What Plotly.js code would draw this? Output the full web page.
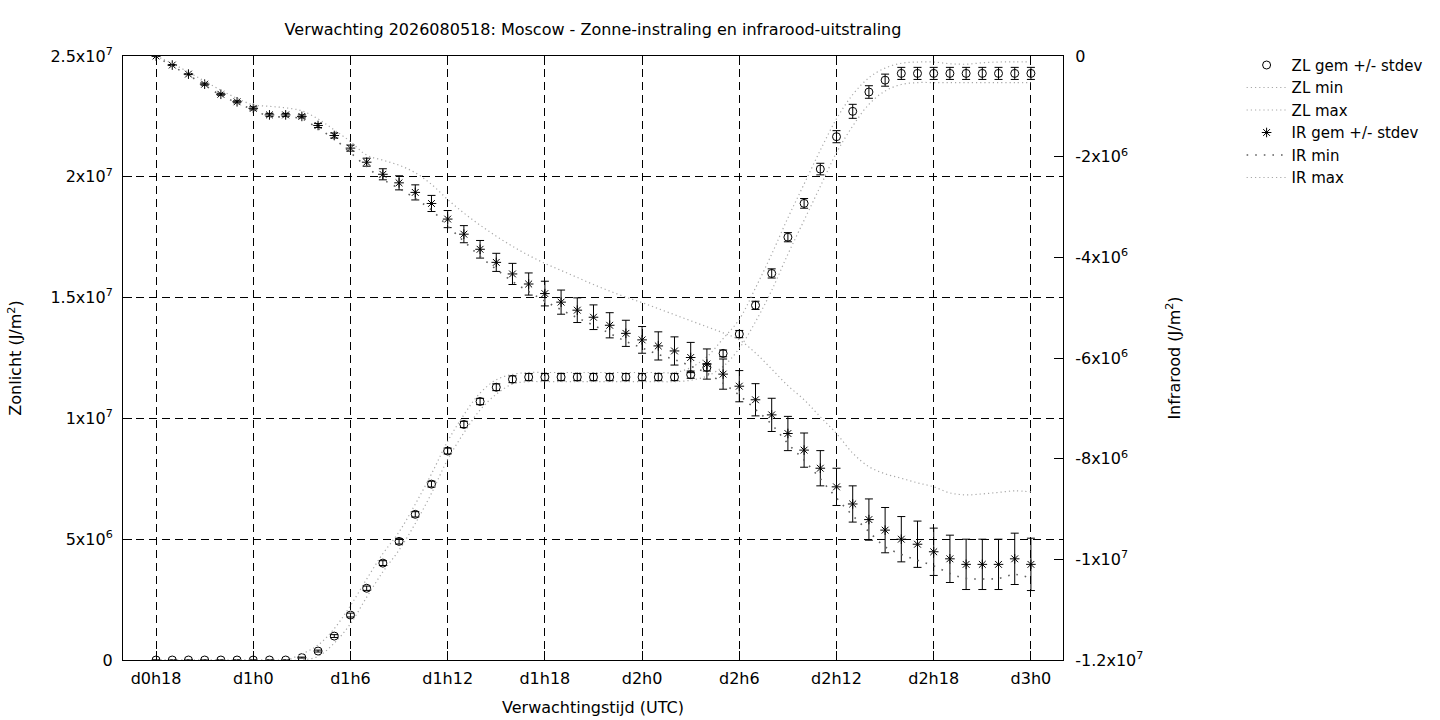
<!DOCTYPE html>
<html>
<head>
<meta charset="utf-8">
<script src="https://cdn.plot.ly/plotly-3.0.1.min.js"></script>
<style>html,body{margin:0;padding:0;background:#fff;}#chart{width:1440px;height:720px;}</style>
</head>
<body>
<div id="chart"></div>
<script>
// Forecast times (hourly)
const times = ['d0h18','d0h19','d0h20','d0h21','d0h22','d0h23',
 'd1h0','d1h1','d1h2','d1h3','d1h4','d1h5','d1h6','d1h7','d1h8','d1h9','d1h10','d1h11',
 'd1h12','d1h13','d1h14','d1h15','d1h16','d1h17','d1h18','d1h19','d1h20','d1h21','d1h22','d1h23',
 'd2h0','d2h1','d2h2','d2h3','d2h4','d2h5','d2h6','d2h7','d2h8','d2h9','d2h10','d2h11',
 'd2h12','d2h13','d2h14','d2h15','d2h16','d2h17','d2h18','d2h19','d2h20','d2h21','d2h22','d2h23',
 'd3h0'];
const xTickVals = ['d0h18','d1h0','d1h6','d1h12','d1h18','d2h0','d2h6','d2h12','d2h18','d3h0'];

// Values in millions of J/m2
const UNIT = 1e6;
const zlMean = [0,0,0,0,0,0,0,0,0,0.10,0.37,0.99,1.86,2.97,4.01,4.91,6.03,7.28,8.65,9.75,10.70,11.29,11.62,
 11.71,11.71,11.71,11.71,11.71,11.71,11.71,11.71,11.71,11.71,
 11.81,12.11,12.69,13.49,14.68,16.00,17.50,18.90,20.32,21.66,22.71,23.51,24.00,
 24.28,24.28,24.28,24.28,24.28,24.28,24.28,24.28,24.28];
const zlStd = [0,0,0,0,0,0,0,0,0,0.02,0.04,0.06,0.08,0.09,0.10,0.11,0.11,0.12,0.12,0.13,0.13,0.14,0.14,
 0.15,0.15,0.15,0.15,0.15,0.15,0.15,0.15,0.15,0.15,
 0.15,0.15,0.14,0.15,0.17,0.19,0.19,0.20,0.24,0.25,0.29,0.26,0.25,
 0.25,0.25,0.25,0.25,0.25,0.25,0.25,0.25,0.25];
const zlMin = [0,0,0,0,0,0,0,0,0,0,0.15,0.70,1.50,2.60,3.65,4.55,5.65,6.90,8.30,9.40,10.35,11.00,11.42,
 11.52,11.52,11.52,11.52,11.52,11.52,11.52,11.52,11.52,11.52,
 11.58,11.75,12.15,12.90,14.00,15.30,16.80,18.20,19.60,21.00,22.10,23.00,23.55,
 23.82,23.90,23.90,23.90,23.90,23.90,23.90,23.90,23.90];
const zlMax = [0,0,0,0,0,0,0,0,0,0.25,0.62,1.30,2.25,3.35,4.40,5.30,6.45,7.70,9.05,10.15,11.05,11.60,11.82,
 11.90,11.90,11.90,11.90,11.90,11.90,11.90,11.90,11.90,11.90,
 12.10,12.55,13.30,14.10,15.40,16.80,18.30,19.70,21.10,22.40,23.40,24.10,24.50,
 24.70,24.75,24.75,24.68,24.66,24.72,24.75,24.76,24.76];

const irMean = [0,-0.18,-0.36,-0.56,-0.76,-0.91,-1.04,-1.17,-1.17,-1.20,-1.38,-1.58,-1.83,-2.11,-2.35,-2.52,-2.71,-2.93,
 -3.24,-3.54,-3.84,-4.10,-4.33,-4.53,-4.72,-4.89,-5.05,-5.19,-5.35,-5.51,-5.64,-5.76,-5.86,-5.99,-6.12,-6.32,
 -6.56,-6.83,-7.13,-7.50,-7.83,-8.19,-8.56,-8.90,-9.21,-9.42,-9.60,-9.70,-9.85,-9.99,-10.10,-10.10,-10.10,-9.99,-10.10];
const irStd = [0,0.01,0.01,0.02,0.02,0.02,0.03,0.03,0.03,0.03,0.04,0.05,0.06,0.08,0.11,0.14,0.15,0.16,
 0.17,0.17,0.175,0.18,0.21,0.22,0.245,0.24,0.245,0.245,0.25,0.26,0.265,0.28,0.28,0.30,0.30,0.30,
 0.31,0.32,0.33,0.34,0.34,0.35,0.37,0.36,0.41,0.45,0.45,0.46,0.47,0.47,0.50,0.50,0.50,0.51,0.52];
const irMin = [0,-0.20,-0.38,-0.58,-0.78,-0.93,-1.07,-1.20,-1.21,-1.25,-1.44,-1.65,-1.92,-2.20,-2.45,-2.63,-2.83,-3.06,
 -3.38,-3.68,-3.98,-4.24,-4.48,-4.68,-4.87,-5.04,-5.20,-5.35,-5.51,-5.67,-5.80,-5.93,-6.03,-6.16,-6.30,-6.50,
 -6.74,-7.02,-7.32,-7.70,-8.03,-8.40,-8.78,-9.13,-9.45,-9.75,-9.90,-10.02,-10.13,-10.28,-10.38,-10.39,-10.38,-10.30,-10.38];
const irMax = [0,-0.15,-0.32,-0.50,-0.68,-0.84,-0.97,-1.00,-1.03,-1.09,-1.25,-1.47,-1.70,-1.97,-2.07,-2.17,-2.32,-2.55,
 -2.85,-3.12,-3.36,-3.58,-3.78,-3.96,-4.12,-4.26,-4.40,-4.54,-4.67,-4.79,-4.90,-5.02,-5.14,-5.26,-5.38,-5.50,
 -5.64,-5.90,-6.22,-6.55,-6.83,-7.17,-7.50,-7.89,-8.16,-8.30,-8.39,-8.48,-8.56,-8.68,-8.72,-8.70,-8.67,-8.64,-8.66];

const leftTickVals = [0, 5e6, 1e7, 1.5e7, 2e7, 2.5e7];
const leftTickText = ['0','5x10<sup>6</sup>','1x10<sup>7</sup>','1.5x10<sup>7</sup>','2x10<sup>7</sup>','2.5x10<sup>7</sup>'];
const rightTickVals = [0, -2e6, -4e6, -6e6, -8e6, -1e7, -1.2e7];
const rightTickText = ['0','-2x10<sup>6</sup>','-4x10<sup>6</sup>','-6x10<sup>6</sup>','-8x10<sup>6</sup>','-1x10<sup>7</sup>','-1.2x10<sup>7</sup>'];

const sc = a => a.map(v => v * UNIT);
const lightDots = {color:'#a8a8a8', width:1.2, dash:'1.2px,3px', shape:'spline'};
const darkDots = {color:'#606060', width:1.6, dash:'1.6px,7px', shape:'spline'};

const traces = [
  {name:'ZL gem +/- stdev', x:times, y:sc(zlMean), type:'scatter', mode:'markers', yaxis:'y',
   marker:{symbol:'circle-open', size:8, color:'#000', line:{width:1, color:'#000'}},
   error_y:{type:'data', array:sc(zlStd), visible:true, color:'#000', thickness:1, width:4}},
  {name:'ZL min', x:times, y:sc(zlMin), type:'scatter', mode:'lines', yaxis:'y', line:lightDots},
  {name:'ZL max', x:times, y:sc(zlMax), type:'scatter', mode:'lines', yaxis:'y', line:lightDots},
  {name:'IR gem +/- stdev', x:times, y:sc(irMean), type:'scatter', mode:'markers', yaxis:'y2',
   marker:{symbol:'asterisk-open', size:8, color:'#000', line:{width:1, color:'#000'}},
   error_y:{type:'data', array:sc(irStd), visible:true, color:'#000', thickness:1, width:4}},
  {name:'IR min', x:times, y:sc(irMin), type:'scatter', mode:'lines', yaxis:'y2', line:darkDots},
  {name:'IR max', x:times, y:sc(irMax), type:'scatter', mode:'lines', yaxis:'y2', line:lightDots}
];

const gridDash = '8px,5px';
const layout = {
  width:1440, height:720,
  paper_bgcolor:'#fff', plot_bgcolor:'#fff',
  margin:{l:123, r:377, t:56, b:60, pad:0},
  font:{family:'DejaVu Sans, sans-serif', size:16, color:'#000'},
  title:{text:'Verwachting 2026080518: Moscow - Zonne-instraling en infrarood-uitstraling',
         x:0.5, xref:'paper', xanchor:'center', y:1-29/720, yref:'container', yanchor:'middle',
         font:{size:16, color:'#000'}},
  showlegend:true,
  legend:{x:1.19, xanchor:'left', y:1.012, yanchor:'top', bgcolor:'rgba(0,0,0,0)',
          font:{size:15, color:'#000'}, tracegroupgap:0, itemwidth:40},
  xaxis:{type:'category', range:[-2.04, 55.98], tickmode:'array', tickvals:xTickVals, ticktext:xTickVals,
         ticks:'inside', ticklen:9, tickcolor:'#000', showgrid:true, gridcolor:'#000', gridwidth:1, griddash:gridDash,
         showline:true, linecolor:'#000', linewidth:1, mirror:'ticks', zeroline:false,
         ticklabelstandoff:4,
         title:{text:'Verwachtingstijd (UTC)', standoff:14, font:{size:16}}},
  yaxis:{range:[0, 2.5e7], tickmode:'array', tickvals:leftTickVals, ticktext:leftTickText,
         ticks:'inside', ticklen:9, tickcolor:'#000', showgrid:true, gridcolor:'#000', gridwidth:1, griddash:gridDash,
         showline:true, linecolor:'#000', linewidth:1, zeroline:false, ticklabelstandoff:6,
         title:{text:'Zonlicht (J/m<sup>2</sup>)', standoff:24, font:{size:16}}},
  yaxis2:{range:[-1.2e7, 0], overlaying:'y', side:'right', tickmode:'array', tickvals:rightTickVals, ticktext:rightTickText,
         ticks:'inside', ticklen:9, tickcolor:'#000', showgrid:false,
         showline:true, linecolor:'#000', linewidth:1, zeroline:false, ticklabelstandoff:8,
         title:{text:'Infrarood (J/m<sup>2</sup>)', standoff:26, font:{size:16}}}
};

Plotly.newPlot('chart', traces, layout, {displayModeBar:false, staticPlot:true});
</script>
</body>
</html>
